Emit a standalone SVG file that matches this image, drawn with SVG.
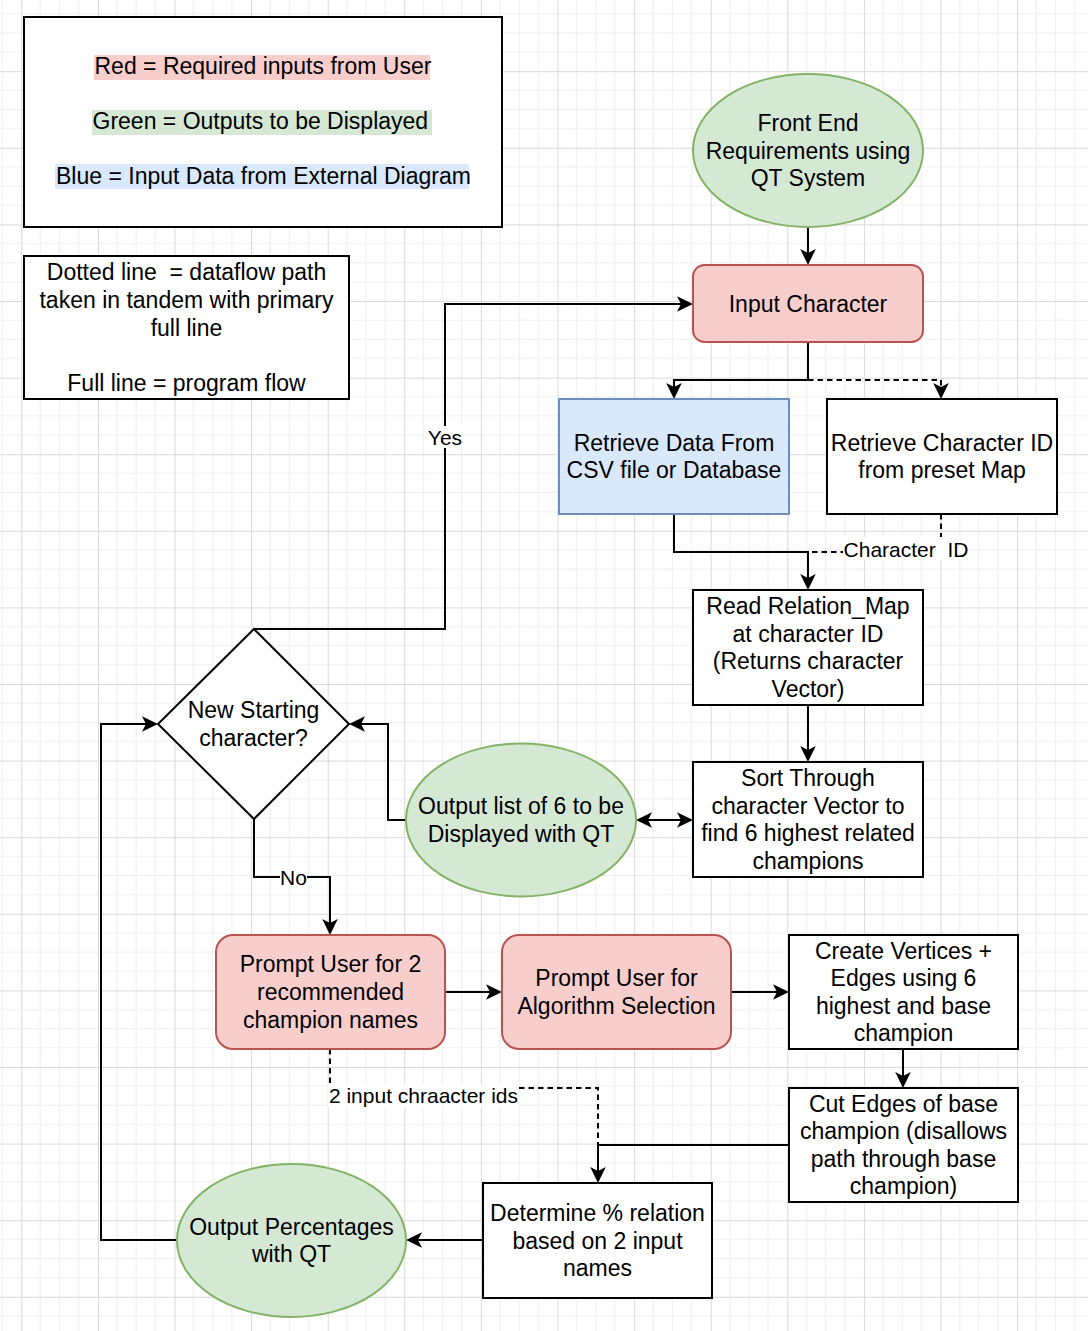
<svg xmlns="http://www.w3.org/2000/svg" width="1088" height="1331" viewBox="0 0 1088 1331">
<defs>
<pattern id="grid" patternUnits="userSpaceOnUse" x="21.3" y="71.2" width="76.6" height="76.6">
<path d="M19.15 0V76.6M38.3 0V76.6M57.45 0V76.6M0 19.15H76.6M0 38.3H76.6M0 57.45H76.6" stroke="#efefef" stroke-width="1.2" fill="none"/>
<path d="M0.5 0V76.6M0 0.5H76.6" stroke="#d9d9d9" stroke-width="1" fill="none"/>
</pattern>
<marker id="arr" markerUnits="userSpaceOnUse" viewBox="-12 -9 18 18" refX="0" refY="0" markerWidth="18" markerHeight="18" orient="auto-start-reverse">
<path d="M5,0 L-11,-7.8 L-7,0 L-11,7.8 Z" fill="#000"/>
</marker>
<style>
text{font-family:"Liberation Sans",Arial,sans-serif;font-size:23px;fill:#000;text-anchor:middle}
.lbl{font-size:21px}
.box{fill:#fff;stroke:#000;stroke-width:2}
.red{fill:#f8cecc;stroke:#b85450;stroke-width:2}
.green{fill:#d5e8d4;stroke:#82b366;stroke-width:2}
.blue{fill:#dae8fc;stroke:#6c8ebf;stroke-width:2}
.edge{fill:none;stroke:#000;stroke-width:2}
.arrow{marker-end:url(#arr)}
.dash{stroke-dasharray:5.5 4}
.lblbg{fill:#fff}
</style>
</defs>
<rect x="0" y="0" width="1088" height="1331" fill="#fff"/>
<rect x="0" y="0" width="1088" height="1331" fill="url(#grid)"/>

<g id="legend-colours">
<rect class="box" x="24" y="17" width="478" height="210"/>
<rect x="94" y="55" width="336" height="25" fill="#f8cecc"/>
<rect x="92" y="110" width="340" height="25" fill="#d5e8d4"/>
<rect x="55" y="164" width="414" height="25" fill="#dae8fc"/>
<text x="94.5" y="74" style="text-anchor:start">Red = Required inputs from User</text>
<text x="92.5" y="129" style="text-anchor:start">Green = Outputs to be Displayed</text>
<text x="56" y="184" style="text-anchor:start">Blue = Input Data from External Diagram</text>
</g>

<g id="legend-lines">
<rect class="box" x="24" y="256" width="325" height="143"/>
<text x="186.5" y="280.3" xml:space="preserve">Dotted line  = dataflow path</text>
<text x="186.5" y="307.9">taken in tandem with primary</text>
<text x="186.5" y="335.5">full line</text>
<text x="186.5" y="390.7">Full line = program flow</text>
</g>

<g id="connectors">
<path class="edge arrow" d="M808,227 V260"/>
<path class="edge arrow" d="M808,342 V380 H674 V394"/>
<path class="edge dash arrow" d="M808,380 H941 V394"/>
<path class="edge arrow" d="M674,514 V552 H808 V585"/>
<path class="edge dash" d="M941,514 V552 H808"/>
<path class="edge arrow" d="M808,705 V757"/>
<path class="edge arrow" d="M641,820 H688" style="marker-start:url(#arr)"/>
<path class="edge arrow" d="M406,820 H388 V724 H354"/>
<path class="edge arrow" d="M254,629 H445 V304 H688"/>
<path class="edge arrow" d="M254,819 V877 H330 V930"/>
<path class="edge arrow" d="M445,992 H497"/>
<path class="edge arrow" d="M731,992 H784"/>
<path class="edge arrow" d="M903,1049 V1083"/>
<path class="edge arrow" d="M789,1145 H598 V1178"/>
<path class="edge dash" d="M330,1049 V1088 H598 V1145"/>
<path class="edge arrow" d="M483,1240 H411"/>
<path class="edge arrow" d="M177,1240 H101 V724 H153"/>
<rect class="lblbg" x="427" y="426" width="36" height="22"/>
<text class="lbl" x="445" y="444.5">Yes</text>
<rect class="lblbg" x="280" y="866" width="27" height="22"/>
<text class="lbl" x="293.5" y="884.5">No</text>
<rect class="lblbg" x="843" y="537" width="126" height="23"/>
<text class="lbl" x="906" y="556.5" xml:space="preserve">Character  ID</text>
<rect class="lblbg" x="328" y="1084" width="191" height="23"/>
<text class="lbl" x="423.5" y="1102.5">2 input chraacter ids</text>
</g>

<g id="front-end">
<ellipse class="green" cx="808" cy="150.5" rx="115" ry="76.5"/>
<text x="808" y="131">Front End</text>
<text x="808" y="158.6">Requirements using</text>
<text x="808" y="186.2">QT System</text>
</g>

<g id="input-character">
<rect class="red" x="693" y="265" width="230" height="77" rx="11.5"/>
<text x="808" y="311.5">Input Character</text>
</g>

<g id="retrieve-data">
<rect class="blue" x="559" y="399" width="230" height="115"/>
<text x="674" y="450.7">Retrieve Data From</text>
<text x="674" y="478.3">CSV file or Database</text>
</g>

<g id="retrieve-id">
<rect class="box" x="827" y="399" width="230" height="115"/>
<text x="942" y="450.7">Retrieve Character ID</text>
<text x="942" y="478.3">from preset Map</text>
</g>

<g id="read-relation">
<rect class="box" x="693" y="590" width="230" height="115"/>
<text x="808" y="614.1">Read Relation_Map</text>
<text x="808" y="641.7">at character ID</text>
<text x="808" y="669.3">(Returns character</text>
<text x="808" y="696.9">Vector)</text>
</g>

<g id="sort-through">
<rect class="box" x="693" y="762" width="230" height="115"/>
<text x="808" y="786">Sort Through</text>
<text x="808" y="813.7">character Vector to</text>
<text x="808" y="841.3">find 6 highest related</text>
<text x="808" y="869">champions</text>
</g>

<g id="output-list">
<ellipse class="green" cx="521" cy="820" rx="115" ry="76.5"/>
<text x="521" y="814.2">Output list of 6 to be</text>
<text x="521" y="841.8">Displayed with QT</text>
</g>

<g id="new-start">
<polygon class="box" points="254,629 349,724 254,819 158,724"/>
<text x="253.5" y="718.2">New Starting</text>
<text x="253.5" y="745.8">character?</text>
</g>

<g id="prompt-names">
<rect class="red" x="216" y="935" width="229" height="114" rx="17"/>
<text x="330.5" y="972.4">Prompt User for 2</text>
<text x="330.5" y="1000">recommended</text>
<text x="330.5" y="1027.6">champion names</text>
</g>

<g id="prompt-algorithm">
<rect class="red" x="502" y="935" width="229" height="114" rx="17"/>
<text x="616.5" y="986.2">Prompt User for</text>
<text x="616.5" y="1013.8">Algorithm Selection</text>
</g>

<g id="create-vertices">
<rect class="box" x="789" y="935" width="229" height="114"/>
<text x="903.5" y="958.6">Create Vertices +</text>
<text x="903.5" y="986.2">Edges using 6</text>
<text x="903.5" y="1013.8">highest and base</text>
<text x="903.5" y="1041.4">champion</text>
</g>

<g id="cut-edges">
<rect class="box" x="789" y="1088" width="229" height="114"/>
<text x="903.5" y="1111.6">Cut Edges of base</text>
<text x="903.5" y="1139.2">champion (disallows</text>
<text x="903.5" y="1166.8">path through base</text>
<text x="903.5" y="1194.4">champion)</text>
</g>

<g id="determine">
<rect class="box" x="483" y="1183" width="229" height="115"/>
<text x="597.5" y="1220.9">Determine % relation</text>
<text x="597.5" y="1248.5">based on 2 input</text>
<text x="597.5" y="1276.1">names</text>
</g>

<g id="output-percentages">
<ellipse class="green" cx="291.5" cy="1240.5" rx="114.5" ry="76.5"/>
<text x="291.5" y="1234.7">Output Percentages</text>
<text x="291.5" y="1262.3">with QT</text>
</g>
</svg>
